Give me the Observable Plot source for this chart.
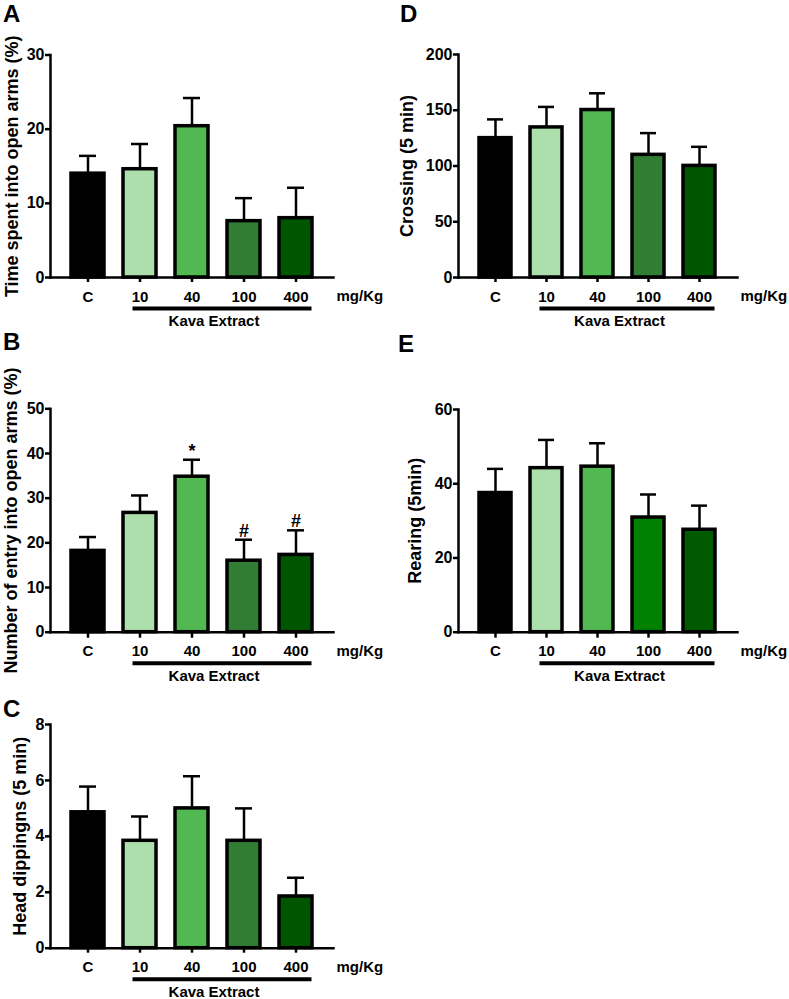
<!DOCTYPE html>
<html><head><meta charset="utf-8">
<script src="https://cdn.jsdelivr.net/npm/d3@7"></script>
<script src="https://cdn.jsdelivr.net/npm/@observablehq/plot@0.6"></script>
<style>
body{margin:0;background:#fff;}
#root{position:relative;width:789px;height:999px;overflow:hidden;font-family:"Liberation Sans",Arial,sans-serif;font-weight:bold;color:#000;}
.pl{position:absolute;}
.lab{position:absolute;font-size:24px;line-height:24px;font-weight:bold;}
</style></head><body><div id="root"></div>
<script>
const doses = ["C", "10", "40", "100", "400"];
const colorsMain = ["#000000", "#addfad", "#52b852", "#327d34", "#005500"];
const colorsE = ["#000000", "#addfad", "#52b852", "#008000", "#005a00"];

const timeOpen = [14.0, 14.6, 20.4, 7.6, 8.0];
const timeOpenSem = [2.4, 3.4, 3.8, 3.1, 4.1];
const entries = [18.2, 26.7, 34.8, 16.0, 17.3];
const entriesSem = [3.1, 3.9, 3.8, 4.7, 5.5];
const entriesSig = ["", "", "*", "#", "#"];
const headDips = [4.86, 3.84, 5.0, 3.84, 1.85];
const headDipsSem = [0.92, 0.87, 1.15, 1.16, 0.67];
const crossing = [125, 134.6, 150.2, 110, 100.1];
const crossingSem = [16.8, 18.4, 15, 19.5, 17.1];
const rearing = [37.5, 44.2, 44.6, 30.9, 27.6];
const rearingSem = [6.5, 7.6, 6.3, 6.2, 6.5];

const ticksA = [0, 10, 20, 30];
const ticksB = [0, 10, 20, 30, 40, 50];
const ticksC = [0, 2, 4, 6, 8];
const ticksD = [0, 50, 100, 150, 200];
const ticksE = [0, 20, 40, 60];

const root = document.getElementById("root");
const FONT = '"Liberation Sans", Arial, sans-serif';

function panel(c) {
  const rows = doses.map((d, i) => ({dose: d, value: c.values[i], top: c.values[i] + c.sem[i], sig: c.sig ? c.sig[i] : ""}));
  const chart = Plot.plot({
    width: c.width, height: c.height,
    marginLeft: c.mL, marginRight: c.mR, marginTop: c.mT, marginBottom: c.mB,
    style: {fontFamily: FONT, fontWeight: "bold", background: "transparent", overflow: "visible", color: "black"},
    x: {type: "band", domain: doses, paddingInner: 0.365, paddingOuter: 0.4, axis: null},
    y: {domain: [0, c.yMax], axis: null},
    color: {domain: doses, range: c.colors},
    marks: [
      Plot.ruleX(rows, {x: "dose", y1: "value", y2: "top", stroke: "black", strokeWidth: 2.5}),
      Plot.tickY(rows, {x: "dose", y: "top", stroke: "black", strokeWidth: 2.5, insetLeft: 8, insetRight: 8}),
      Plot.barY(rows, {x: "dose", y: "value", fill: "dose", stroke: "black", strokeWidth: 3.5}),
      Plot.frame({anchor: "left", strokeWidth: 2.5, strokeLinecap: "square"}),
      Plot.frame({anchor: "bottom", strokeWidth: 2.5, strokeLinecap: "square"}),
      Plot.axisY({ticks: c.yTicks, tickSize: 5, tickPadding: 1, fontSize: 16, strokeWidth: 2.5, label: null, tickFormat: d => String(d)}),
      Plot.axisX({tickSize: c.tickLen, tickPadding: 13.6 - c.tickLen, fontSize: 15, strokeWidth: 2.5, label: null}),
      Plot.text(["mg/Kg"], {text: d => d, frameAnchor: "bottom-right", dx: 3, dy: 19, textAnchor: "start", lineAnchor: "middle", fontSize: 15}),
      Plot.ruleY([0], {x1: () => "10", x2: () => "400", dy: 31, strokeWidth: 4, insetLeft: 9.5, insetRight: 0.5}),
      Plot.text(["Kava Extract"], {text: d => d, x: () => "40", y: () => 0, dx: 22, dy: 44, fontSize: 15, lineAnchor: "middle"}),
      Plot.text([c.title], {text: d => d, frameAnchor: "left", dx: -c.titleDx, rotate: -90, fontSize: 18, textAnchor: "middle", lineAnchor: "middle"}),
      c.sig ? Plot.text(rows, {x: "dose", y: "top", text: "sig", lineAnchor: "bottom", dy: -3, fontSize: 18}) : null
    ]
  });
  const wrap = document.createElement("div");
  wrap.className = "pl";
  wrap.style.left = c.left + "px";
  wrap.style.top = c.top + "px";
  wrap.appendChild(chart);
  root.appendChild(wrap);
  const lab = document.createElement("div");
  lab.className = "lab";
  lab.textContent = c.label;
  lab.style.left = c.labX + "px";
  lab.style.top = c.labY + "px";
  root.appendChild(lab);
}

panel({label: "A", labX: 3, labY: 2, left: 0, top: 0, width: 390, height: 330, mL: 50, mR: 57, mT: 54.5, mB: 53,
  values: timeOpen, sem: timeOpenSem, yMax: 30, yTicks: ticksA, title: "Time spent into open arms (%)", titleDx: 38, colors: colorsMain, tickLen: 5});
panel({label: "D", labX: 400, labY: 2, left: 390, top: 0, width: 399, height: 330, mL: 68, mR: 52, mT: 54, mB: 53,
  values: crossing, sem: crossingSem, yMax: 200, yTicks: ticksD, title: "Crossing (5 min)", titleDx: 51, colors: colorsMain, tickLen: 5});
panel({label: "B", labX: 3, labY: 330, left: 0, top: 330, width: 390, height: 350, mL: 50, mR: 57, mT: 78.3, mB: 48.3,
  values: entries, sem: entriesSem, sig: entriesSig, yMax: 50, yTicks: ticksB, title: "Number of entry into open arms (%)", titleDx: 39, colors: colorsMain, tickLen: 6});
panel({label: "E", labX: 398, labY: 332, left: 390, top: 330, width: 399, height: 350, mL: 68, mR: 52, mT: 79, mB: 48.3,
  values: rearing, sem: rearingSem, yMax: 60, yTicks: ticksE, title: "Rearing (5min)", titleDx: 43, colors: colorsE, tickLen: 6});
panel({label: "C", labX: 3, labY: 697, left: 0, top: 680, width: 390, height: 319, mL: 50, mR: 57, mT: 44, mB: 51.3,
  values: headDips, sem: headDipsSem, yMax: 8, yTicks: ticksC, title: "Head dippingns (5 min)", titleDx: 30, colors: colorsMain, tickLen: 5});
</script>
</body></html>
